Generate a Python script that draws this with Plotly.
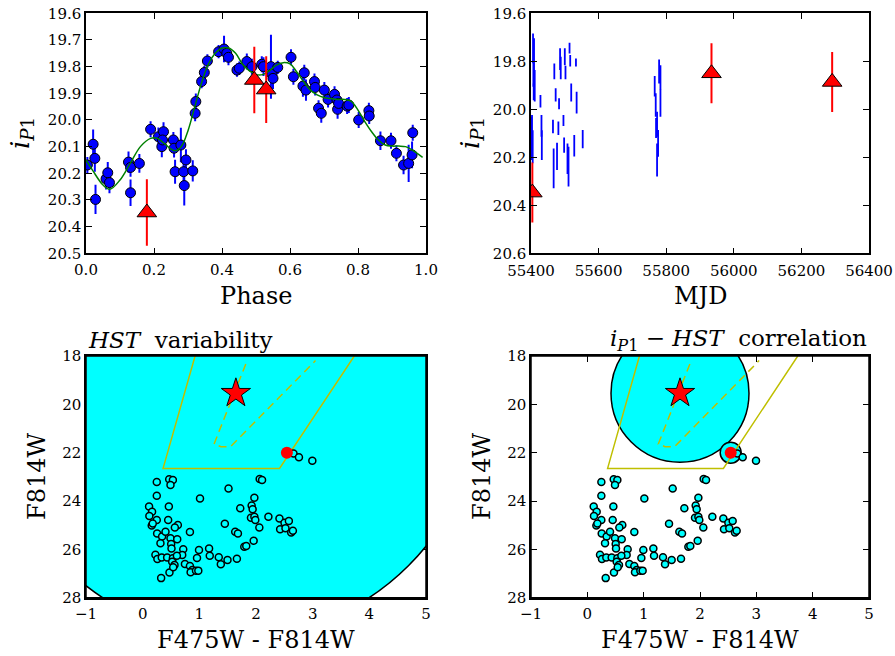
import plotly.graph_objects as go

# ---------------- data ----------------
phase = [0.004, 0.021, 0.026, 0.028, 0.059, 0.064, 0.069, 0.125, 0.131, 0.131,
         0.157, 0.190, 0.213, 0.223, 0.228, 0.225, 0.257, 0.259, 0.262, 0.279,
         0.287, 0.289, 0.294, 0.314, 0.321, 0.323, 0.340, 0.348, 0.357, 0.390,
         0.406, 0.414, 0.419, 0.444, 0.451, 0.473, 0.488, 0.517, 0.522, 0.544,
         0.547, 0.550, 0.564, 0.603, 0.610, 0.638, 0.642, 0.647, 0.672, 0.674,
         0.684, 0.692, 0.701, 0.712, 0.731, 0.738, 0.740, 0.743, 0.768, 0.773,
         0.802, 0.832, 0.833, 0.866, 0.897, 0.913, 0.934, 0.949, 0.959, 0.961]
phase_mag = [20.169, 20.091, 20.144, 20.298, 20.221, 20.198, 20.235, 20.158, 20.178, 20.273,
             20.163, 20.035, 20.063, 20.100, 20.044, 20.075, 20.075, 20.106, 20.194, 20.094,
             20.194, 20.246, 20.150, 20.191, 19.975, 19.931, 19.856, 19.822, 19.779, 19.744,
             19.734, 19.750, 19.765, 19.813, 19.806, 19.781, 19.800, 19.791, 19.800, 19.800,
             19.828, 19.844, 19.803, 19.765, 19.838, 19.873, 19.823, 19.888, 19.856, 19.878,
             19.956, 19.975, 19.888, 19.923, 19.904, 19.925, 19.960, 19.938, 19.948, 19.944,
             20.000, 19.965, 19.985, 20.078, 20.078, 20.125, 20.169, 20.163, 20.131, 20.048]
phase_err = [0.030, 0.055, 0.050, 0.055, 0.040, 0.040, 0.040, 0.040, 0.035, 0.050,
             0.035, 0.030, 0.035, 0.040, 0.035, 0.030, 0.030, 0.035, 0.045, 0.065,
             0.040, 0.075, 0.040, 0.040, 0.030, 0.030, 0.025, 0.025, 0.025, 0.025,
             0.050, 0.030, 0.030, 0.025, 0.025, 0.030, 0.030, 0.030, 0.035, 0.120,
             0.040, 0.040, 0.025, 0.030, 0.030, 0.040, 0.030, 0.040, 0.030, 0.030,
             0.030, 0.035, 0.030, 0.030, 0.030, 0.030, 0.035, 0.030, 0.030, 0.030,
             0.030, 0.030, 0.030, 0.035, 0.030, 0.030, 0.035, 0.070, 0.050, 0.030]

fit_phase = [0.0, 0.02, 0.05, 0.07, 0.10, 0.13, 0.16, 0.19, 0.21, 0.23, 0.26, 0.28,
             0.30, 0.32, 0.34, 0.36, 0.38, 0.40, 0.42, 0.44, 0.46, 0.48, 0.50, 0.52,
             0.54, 0.56, 0.58, 0.60, 0.62, 0.64, 0.66, 0.68, 0.70, 0.72, 0.74, 0.76,
             0.78, 0.80, 0.82, 0.84, 0.86, 0.88, 0.90, 0.92, 0.94, 0.96, 0.99]
fit_mag = [20.150, 20.190, 20.244, 20.260, 20.225, 20.163, 20.100, 20.069, 20.069, 20.088,
           20.115, 20.100, 20.040, 19.950, 19.860, 19.790, 19.750, 19.730, 19.730, 19.750,
           19.790, 19.815, 19.830, 19.830, 19.815, 19.794, 19.785, 19.790, 19.820, 19.856,
           19.888, 19.906, 19.916, 19.920, 19.923, 19.923, 19.930, 19.963, 20.006, 20.044,
           20.075, 20.094, 20.098, 20.098, 20.100, 20.113, 20.140]

hst_phase = [0.179, 0.495, 0.530]
hst_mag = [20.347, 19.850, 19.886]
hst_err = [0.125, 0.125, 0.125]
hst_mjd = [55404, 55934, 56291]

mjd = [55406, 55409, 55407, 55411, 55408, 55403, 55405, 55401, 55428, 55431,
       55432, 55465, 55467, 55469, 55473, 55477, 55481, 55483, 55486, 55488,
       55496, 55498, 55500, 55502, 55508, 55511, 55514, 55516, 55519, 55528,
       55533, 55535, 55553, 55779, 55783, 55783, 55766, 55769, 55773, 55770,
       55776, 55773]
mjd_mag = [19.746, 19.777, 19.850, 19.902, 19.927, 20.104, 20.156, 20.121, 19.966, 20.069,
           20.149, 20.072, 20.246, 19.842, 19.940, 20.196, 20.079, 19.977, 19.791, 19.828,
           20.047, 20.149, 19.781, 19.847, 20.206, 20.239, 19.745, 19.798, 19.930, 20.152,
           19.805, 19.972, 20.124, 19.842, 19.868, 19.975, 19.904, 19.982, 20.062, 20.078,
           20.142, 20.211]
mjd_err = [0.062, 0.073, 0.056, 0.066, 0.035, 0.080, 0.069, 0.090, 0.026, 0.045,
           0.062, 0.028, 0.083, 0.033, 0.028, 0.057, 0.028, 0.023, 0.045, 0.047,
           0.023, 0.032, 0.035, 0.028, 0.064, 0.083, 0.022, 0.024, 0.038, 0.045,
           0.017, 0.045, 0.038, 0.050, 0.052, 0.056, 0.043, 0.049, 0.052, 0.042,
           0.056, 0.069]

cmd_color = [0.249, 0.468, 0.533, 0.491, 0.249, 1.515, 1.012, 1.971, 2.065, 2.107,
             0.113, 0.166, 0.118, 0.462, 1.722, 1.923, 1.941, 1.911, 1.971, 1.988,
             2.219, 0.160, 0.249, 0.178, 0.450, 0.621, 0.568, 0.834, 1.450, 1.633,
             1.681, 2.059, 0.255, 0.343, 0.403, 0.491, 0.610, 0.314, 0.503, 0.509,
             0.716, 0.698, 0.994, 1.172, 1.184, 0.959, 1.343, 1.497, 1.663, 1.793,
             1.828, 1.959, 0.225, 0.260, 0.337, 0.432, 0.533, 0.604, 0.521, 0.562,
             0.746, 0.834, 0.876, 0.846, 0.941, 0.982, 1.379, 0.473, 0.326, 0.539,
             2.414, 2.503, 2.580, 2.426, 2.520, 2.621, 2.651,
             2.662, 2.758, 2.994]
cmd_mag = [23.21, 23.10, 23.13, 23.34, 23.78, 23.48, 23.90, 23.86, 23.09, 23.13,
           24.23, 24.44, 24.62, 24.23, 24.30, 24.19, 24.34, 24.69, 24.65, 24.79,
           24.65, 25.01, 24.79, 24.93, 24.79, 24.99, 25.10, 25.28, 24.94, 25.27,
           25.34, 25.10, 25.34, 25.47, 25.27, 25.54, 25.58, 25.75, 25.78, 25.96,
           26.00, 26.23, 26.03, 25.96, 26.26, 26.36, 26.33, 26.44, 26.39, 25.89,
           25.86, 25.64, 26.22, 26.40, 26.34, 26.34, 26.37, 26.26, 26.51, 26.65,
           26.61, 26.69, 26.85, 26.95, 26.88, 26.88, 26.62, 26.96, 27.19, 26.74,
           24.72, 24.90, 24.83, 25.17, 25.13, 25.30, 25.23,
           22.03, 22.19, 22.33]

star_color = [1.645]
star_mag = [19.54]
star_err = [0.45]
var_color = [2.545]
var_mag = [22.00]

box_color = [0.925, 0.360, 2.415, 3.735]
box_mag = [18.0, 22.65, 22.65, 18.0]
dash_color = [1.820, 1.260, 1.380, 1.550, 3.050]
dash_mag = [18.33, 21.64, 21.75, 21.75, 18.19]

# ---------------- layout helpers ----------------
W, H = 895, 656
def px(x): return x / W
def py(y): return 1 - y / H

FONT = "DejaVu Serif"
cols = [(86, 426), (531, 869)]
rows = [(13.3, 253.3), (356, 597.7)]

fig = go.Figure()

def ax_style(**kw):
    d = dict(showline=True, linecolor="black", linewidth=1.5, mirror="ticks",
             ticks="inside", ticklen=6, tickwidth=1, tickcolor="black",
             showgrid=False, zeroline=False, automargin=False,
             tickfont=dict(family=FONT, size=15, color="black"))
    d.update(kw)
    return d

BLUE = "#0000ff"
RED = "#ff0000"
CYAN = "#00ffff"
OLIVE = "#bfbf00"

# ---- panel 1: phase ----
fig.add_trace(go.Scatter(x=phase, y=phase_mag, mode="markers", xaxis="x", yaxis="y",
                         error_y=dict(type="data", array=phase_err, color=BLUE, thickness=2, width=0),
                         marker=dict(size=10, color=BLUE, line=dict(color="black", width=1))))
fig.add_trace(go.Scatter(x=fit_phase, y=fit_mag, mode="lines", xaxis="x", yaxis="y",
                         line=dict(color="#008000", width=1.5, shape="spline")))
fig.add_trace(go.Scatter(x=hst_phase, y=hst_mag, mode="markers", xaxis="x", yaxis="y",
                         error_y=dict(type="data", array=hst_err, color=RED, thickness=2, width=0),
                         marker=dict(symbol="triangle-up", size=17, color=RED,
                                     line=dict(color="black", width=1))))

# ---- panel 2: MJD ----
fig.add_trace(go.Scatter(x=mjd, y=mjd_mag, mode="markers", xaxis="x2", yaxis="y2",
                         error_y=dict(type="data", array=mjd_err, color=BLUE, thickness=1.8, width=0),
                         marker=dict(size=1, color="rgba(0,0,0,0)")))
fig.add_trace(go.Scatter(x=hst_mjd, y=hst_mag, mode="markers", xaxis="x2", yaxis="y2",
                         error_y=dict(type="data", array=hst_err, color=RED, thickness=2, width=0),
                         marker=dict(symbol="triangle-up", size=17, color=RED,
                                     line=dict(color="black", width=1))))

# ---- panels 3 & 4: CMDs ----
for xa, ya, big, ring in [("x3", "y3", 488, None), ("x4", "y4", 138, 21)]:
    fig.add_trace(go.Scatter(x=star_color, y=star_mag, mode="markers", xaxis=xa, yaxis=ya,
                             marker=dict(size=big, color=CYAN, line=dict(color="black", width=1.5))))
    if ring:
        fig.add_trace(go.Scatter(x=var_color, y=var_mag, mode="markers", xaxis=xa, yaxis=ya,
                                 marker=dict(size=ring, color=CYAN, line=dict(color="black", width=1.5))))
    fig.add_trace(go.Scatter(x=box_color, y=box_mag, mode="lines", xaxis=xa, yaxis=ya,
                             line=dict(color=OLIVE, width=1.5)))
    fig.add_trace(go.Scatter(x=dash_color, y=dash_mag, mode="lines", xaxis=xa, yaxis=ya,
                             line=dict(color=OLIVE, width=1.5, dash="8px,5px")))
    fig.add_trace(go.Scatter(x=cmd_color, y=cmd_mag, mode="markers", xaxis=xa, yaxis=ya,
                             marker=dict(size=7, color=CYAN, line=dict(color="black", width=1.5))))
    fig.add_trace(go.Scatter(x=var_color, y=var_mag, mode="markers", xaxis=xa, yaxis=ya,
                             marker=dict(size=12, color=RED, line=dict(color=RED, width=0))))
    err = dict(type="data", symmetric=False, array=[0], arrayminus=star_err,
               color="black", thickness=1.5, width=0) if ring else None
    fig.add_trace(go.Scatter(x=star_color, y=star_mag, mode="markers", xaxis=xa, yaxis=ya,
                             error_y=err,
                             marker=dict(symbol="star", size=22, color=RED,
                                         line=dict(color="black", width=1))))

layout = dict(
    width=W, height=H, margin=dict(l=0, r=0, t=0, b=0, autoexpand=False),
    paper_bgcolor="white", plot_bgcolor="white", showlegend=False,
    font=dict(family=FONT),
    xaxis=ax_style(domain=[px(cols[0][0]), px(cols[0][1])], range=[0, 1], dtick=0.2,
                   tick0=0, tickformat=".1f", anchor="y", ticklabelstandoff=2),
    yaxis=ax_style(domain=[py(rows[0][1]), py(rows[0][0])], range=[20.5, 19.6], dtick=0.1,
                   tick0=19.6, tickformat=".1f", anchor="x"),
    xaxis2=ax_style(domain=[px(cols[1][0]), px(cols[1][1])], range=[55400, 56400], dtick=200,
                    tick0=55400, tickformat="d", anchor="y2", ticklabelstandoff=3),
    yaxis2=ax_style(domain=[py(rows[0][1]), py(rows[0][0])], range=[20.6, 19.6], dtick=0.2,
                    tick0=19.6, tickformat=".1f", anchor="x2"),
    xaxis3=ax_style(domain=[px(cols[0][0]), px(cols[0][1])], range=[-1, 5], dtick=1,
                    tick0=-1, anchor="y3", layer="below traces", ticklabelstandoff=2),
    yaxis3=ax_style(domain=[py(rows[1][1]), py(rows[1][0])], range=[28, 18], dtick=2,
                    tick0=18, anchor="x3", layer="below traces"),
    xaxis4=ax_style(domain=[px(cols[1][0]), px(cols[1][1])], range=[-1, 5], dtick=1,
                    tick0=-1, anchor="y4", layer="below traces", ticklabelstandoff=2),
    yaxis4=ax_style(domain=[py(rows[1][1]), py(rows[1][0])], range=[28, 18], dtick=2,
                    tick0=18, anchor="x4", layer="below traces"),
)
fig.update_layout(**layout)

# frames above the traces for the CMD panels
for n in ("3", "4"):
    fig.add_shape(type="rect", xref=f"x{n} domain", yref=f"y{n} domain", x0=0, x1=1, y0=0, y1=1,
                  line=dict(color="black", width=1.5), layer="above")

ylab = "<i>i</i><sub><i>P</i>1</sub>"
LS = 24
ann = [
    dict(text="Phase", x=px(256), y=py(296), size=LS, angle=0, xa="center"),
    dict(text="MJD", x=px(700), y=py(296), size=LS, angle=0, xa="center"),
    dict(text="F475W - F814W", x=px(256), y=py(640), size=LS, angle=0, xa="center"),
    dict(text="F475W - F814W", x=px(700), y=py(640), size=LS, angle=0, xa="center"),
    dict(text=ylab, x=px(21), y=py(133), size=LS + 2, angle=-90, xa="center"),
    dict(text=ylab, x=px(471), y=py(133), size=LS + 2, angle=-90, xa="center"),
    dict(text="F814W", x=px(37), y=py(477), size=LS, angle=-90, xa="center"),
    dict(text="F814W", x=px(482), y=py(477), size=LS, angle=-90, xa="center"),
    dict(text="<i>HST</i>  variability", x=px(86), y=py(340), size=23, angle=0, xa="left"),
    dict(text=ylab + " − <i>HST</i>  correlation", x=px(869), y=py(340), size=23, angle=0, xa="right"),
]
for a in ann:
    fig.add_annotation(text=a["text"], x=a["x"], y=a["y"], xref="paper", yref="paper",
                       showarrow=False, xanchor=a["xa"], yanchor="middle", textangle=a["angle"],
                       font=dict(family=FONT, size=a["size"], color="black"))

fig.write_html("out.html")
